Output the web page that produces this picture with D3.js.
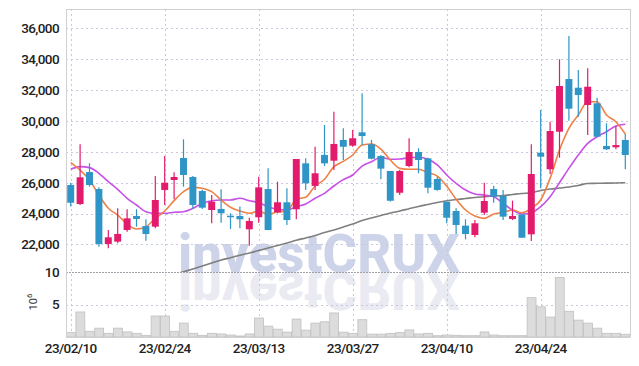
<!DOCTYPE html>
<html><head><meta charset="utf-8">
<script src="https://cdn.jsdelivr.net/npm/d3@7"></script>
<style>
html,body{margin:0;padding:0;background:#fff;}
svg{display:block;}
text{font-family:Roboto,"Noto Sans",sans-serif;}
</style></head>
<body>
<svg id="chart" width="639" height="366"></svg>
<script>
// ---- data ----
const dates = ["23/02/10","23/02/13","23/02/14","23/02/15","23/02/16","23/02/17","23/02/20","23/02/21","23/02/22","23/02/23",
"23/02/24","23/02/27","23/02/28","23/03/02","23/03/03","23/03/06","23/03/07","23/03/08","23/03/09","23/03/10",
"23/03/13","23/03/14","23/03/15","23/03/16","23/03/17","23/03/20","23/03/21","23/03/22","23/03/23","23/03/24",
"23/03/27","23/03/28","23/03/29","23/03/30","23/03/31","23/04/03","23/04/04","23/04/05","23/04/06","23/04/07",
"23/04/10","23/04/11","23/04/12","23/04/13","23/04/14","23/04/17","23/04/18","23/04/19","23/04/20","23/04/21",
"23/04/24","23/04/25","23/04/26","23/04/27","23/04/28","23/05/02","23/05/03","23/05/04","23/05/08","23/05/09"];
const open = [25850,24620,26690,25590,22030,22180,22935,23840,23190,23150,
25530,26175,27600,26370,25460,24230,24300,23860,23840,22980,
23760,25590,24080,24730,24275,27255,25790,27800,27425,28770,
28400,29265,28490,27730,26760,25350,27080,27990,27580,26240,
24770,24165,23215,22610,24055,25590,25140,23650,23950,22655,
27945,26870,29305,32720,32155,31035,31145,28380,28295,28770];
const high = [26000,28490,27260,25700,22930,24340,24280,24280,23630,26430,
27730,26670,28810,26430,25550,25200,25570,24020,24450,23730,
26390,26930,26065,25640,27535,27580,28330,29740,30600,29525,
29415,31790,28770,27800,26760,26820,28880,28230,27620,26390,
24770,24340,23630,23585,26000,25805,25530,24835,23950,28490,
30710,29950,34000,35500,33300,33410,31510,29850,29675,29155];
const low = [24450,24555,25740,21850,21750,22070,22825,23150,22240,23045,
24555,24925,25740,24300,24300,23370,23410,23000,23045,21920,
23410,22935,24020,23260,23630,25530,25530,27080,26820,27470,
28330,28440,27515,26220,24780,25200,27000,26610,25310,25480,
23370,22675,22330,22460,23905,24705,23585,23585,22435,22220,
25640,26565,27620,30020,30280,29090,28980,28120,28165,26870];
const close = [24700,26350,25850,22030,22460,22680,23690,23650,22675,24880,
26000,26370,26500,24555,24380,24770,24020,23840,23630,23520,
25700,22935,24730,23580,27535,25960,26610,27255,28510,28330,
28880,29025,27555,26910,24830,26760,27990,27470,25675,25530,
23730,23260,22675,23370,24815,25090,23800,23840,22435,26565,
27685,29350,32265,30795,31680,32220,28980,28165,28440,27795];
const volume = [0.67,3.85,0.88,1.36,0.57,1.36,0.78,0.57,0.26,3.23,
3.23,0.88,2.14,0.57,0.26,0.57,0.47,0.31,0.16,0.47,
2.92,1.67,1.2,0.75,2.76,1.06,2.14,2.34,3.7,0.75,
0.57,2.66,0.44,0.44,0.52,0.67,1.09,0.47,0.57,0.2,
0.31,0.26,0.2,0.2,0.78,0.31,0.2,0.2,0.2,6.05,
4.64,3.07,9.17,3.96,2.6,2.14,1.36,0.57,0.57,0.42];
const ma5 = [27300,26820,26175,25200,24340,23905,23325,23000,23150,23690,
24165,24835,25420,25700,25640,25420,24880,24405,24165,24020,
24165,23950,24100,24165,24925,25055,25785,26220,27040,27380,
27795,28440,28510,28180,27470,26930,26870,26870,26650,26430,
25785,24925,24230,23840,23690,23970,24080,24230,24055,24340,
24880,26285,28120,29525,30390,31250,31250,30390,29950,29155];
const ma20 = [26870,27040,26975,26610,26065,25570,24990,24555,24120,24020,
24020,24080,24120,24340,24660,24835,24880,24880,24990,24835,
24700,24445,24275,24230,24445,24620,24990,25310,25785,26200,
26500,27080,27360,27645,27515,27535,27620,27645,27515,27150,
26500,25960,25530,25270,25200,25090,24665,24230,23970,24055,
24445,25090,26000,26930,27795,28550,28980,29305,29675,29785];
const ma120 = [null,null,null,null,null,null,null,null,null,null,
null,20050,20230,20410,20600,20800,20990,21140,21300,21445,
21600,21770,21930,22090,22270,22420,22580,22770,22935,23130,
23325,23550,23710,23870,24035,24165,24315,24460,24590,24720,
24830,24910,24975,25040,25090,25140,25170,25235,25300,25350,
25495,25590,25655,25720,25820,25950,25960,25970,25980,26000];
const priceTicks = [22000,24000,26000,28000,30000,32000,34000,36000];
const volTicks = [5,10];
const dateTickIdx = [0,10,20,30,40,50];

// ---- layout ----
const L = 66, R = 630, T = 9, SEP = 272, B = 337;
const svg = d3.select("#chart");
const idx = d3.range(dates.length);
const x = d3.scaleBand().domain(idx).range([L, R]).padding(0);
const bw = x.bandwidth();
const cx = i => x(i) + bw / 2;
const yP = d3.scaleLinear().domain([20213, 37256]).range([SEP, T]);
const yV = d3.scaleLinear().domain([0, 10]).range([B, SEP]);

const UP = "#e31b6d", DOWN = "#2f95c7";
const gridCol = "#c6c8dc";

const defs = svg.append("defs");
defs.append("clipPath").attr("id", "pclip")
  .append("rect").attr("x", L).attr("y", T).attr("width", R - L).attr("height", SEP - T);

// watermark (with mirrored reflection)
const wmText = defs.append("text").attr("id", "wm").attr("x", 178).attr("y", SEP).text("investCRUX")
  .attr("font-family", "Inter, 'Liberation Sans', sans-serif").attr("font-weight", 800)
  .attr("font-size", 54).attr("textLength", 282).attr("lengthAdjust", "spacingAndGlyphs");
const wm = svg.append("g");
wm.append("use").attr("href", "#wm").attr("fill", "#eaeaf2")
  .attr("transform", `translate(0,${2 * SEP}) scale(1,-1)`);
wm.append("use").attr("href", "#wm").attr("fill", "#cdd3e8");

// grid
const grid = svg.append("g").attr("stroke", gridCol).attr("stroke-width", 1).attr("stroke-dasharray", "2,3");
grid.selectAll("line.h").data(priceTicks).join("line")
  .attr("x1", L).attr("x2", R).attr("y1", d => Math.round(yP(d)) + 0.5).attr("y2", d => Math.round(yP(d)) + 0.5);
grid.append("line").attr("x1", L).attr("x2", R).attr("y1", Math.round(yV(5)) + 0.5).attr("y2", Math.round(yV(5)) + 0.5);
grid.selectAll("line.v").data(dateTickIdx).join("line")
  .attr("x1", d => Math.round(cx(d)) + 0.5).attr("x2", d => Math.round(cx(d)) + 0.5).attr("y1", T).attr("y2", B);

// volume bars
svg.append("g").selectAll("rect").data(idx).join("rect")
  .attr("x", i => x(i) + 0.5).attr("width", bw - 0.5)
  .attr("y", i => yV(volume[i])).attr("height", i => B - yV(volume[i]))
  .attr("fill", "#dcdcdc").attr("stroke", "#c0c0c0").attr("stroke-width", 0.8);

// separator
svg.append("line").attr("x1", L).attr("x2", R).attr("y1", SEP + 0.5).attr("y2", SEP + 0.5)
  .attr("stroke", "#a0a0a8").attr("stroke-width", 1).attr("stroke-dasharray", "2,1");

// price panel
const pg = svg.append("g").attr("clip-path", "url(#pclip)");
const line = arr => d3.line().defined(i => arr[i] != null).x(i => cx(i)).y(i => yP(arr[i])).curve(d3.curveMonotoneX)(idx);
pg.append("path").attr("d", line(ma120)).attr("fill", "none").attr("stroke", "#7f7f7f").attr("stroke-width", 1.6);
pg.append("path").attr("d", line(ma20)).attr("fill", "none").attr("stroke", "#c850e8").attr("stroke-width", 1.6);
pg.append("path").attr("d", line(ma5)).attr("fill", "none").attr("stroke", "#ef8146").attr("stroke-width", 1.6);

const cg = pg.append("g").selectAll("g").data(idx).join("g");
const col = i => close[i] >= open[i] ? UP : DOWN;
cg.append("line").attr("x1", i => cx(i)).attr("x2", i => cx(i))
  .attr("y1", i => yP(high[i])).attr("y2", i => yP(low[i]))
  .attr("stroke", col).attr("stroke-width", 1.2);
const cw = bw * 0.74;
cg.append("rect").attr("x", i => cx(i) - cw / 2).attr("width", cw)
  .attr("y", i => yP(Math.max(open[i], close[i])))
  .attr("height", i => Math.max(1.5, Math.abs(yP(open[i]) - yP(close[i]))))
  .attr("fill", col);

// frame
const fr = svg.append("g").attr("stroke", "#cfcfd4").attr("stroke-width", 1).attr("fill", "none");
fr.append("line").attr("x1", L).attr("x2", R + 0.5).attr("y1", T + 0.5).attr("y2", T + 0.5);
fr.append("line").attr("x1", L + 0.5).attr("x2", L + 0.5).attr("y1", T).attr("y2", B);
fr.append("line").attr("x1", R + 0.5).attr("x2", R + 0.5).attr("y1", T).attr("y2", B);
fr.append("line").attr("x1", L).attr("x2", R + 0.5).attr("y1", B + 0.5).attr("y2", B + 0.5);

// axes
const styleAxis = g => {
  g.select(".domain").remove();
  g.selectAll(".tick line").remove();
  g.selectAll("text").attr("font-family", "Roboto, sans-serif").attr("font-size", 13.5)
    .attr("font-weight", 500).attr("fill", "#222").attr("letter-spacing", "-0.6px");
};
svg.append("g").attr("transform", `translate(${L},0)`)
  .call(d3.axisLeft(yP).tickValues(priceTicks).tickFormat(d3.format(",")).tickSize(0).tickPadding(7))
  .call(styleAxis);
svg.append("g").attr("transform", `translate(${L},0)`)
  .call(d3.axisLeft(yV).tickValues(volTicks).tickFormat(d3.format("d")).tickSize(0).tickPadding(7))
  .call(styleAxis);
svg.append("g").attr("transform", `translate(0,${B})`)
  .call(d3.axisBottom(x).tickValues(dateTickIdx).tickFormat(i => dates[i]).tickSize(0).tickPadding(6))
  .call(styleAxis);

// volume unit label
const ul = svg.append("text").attr("transform", "translate(37,302) rotate(-90)")
  .attr("text-anchor", "middle").attr("font-family", "'DejaVu Sans', sans-serif")
  .attr("font-size", 11).attr("fill", "#333");
ul.append("tspan").text("10");
ul.append("tspan").text("6").attr("font-size", 8).attr("dy", -5);
</script>
</body></html>
